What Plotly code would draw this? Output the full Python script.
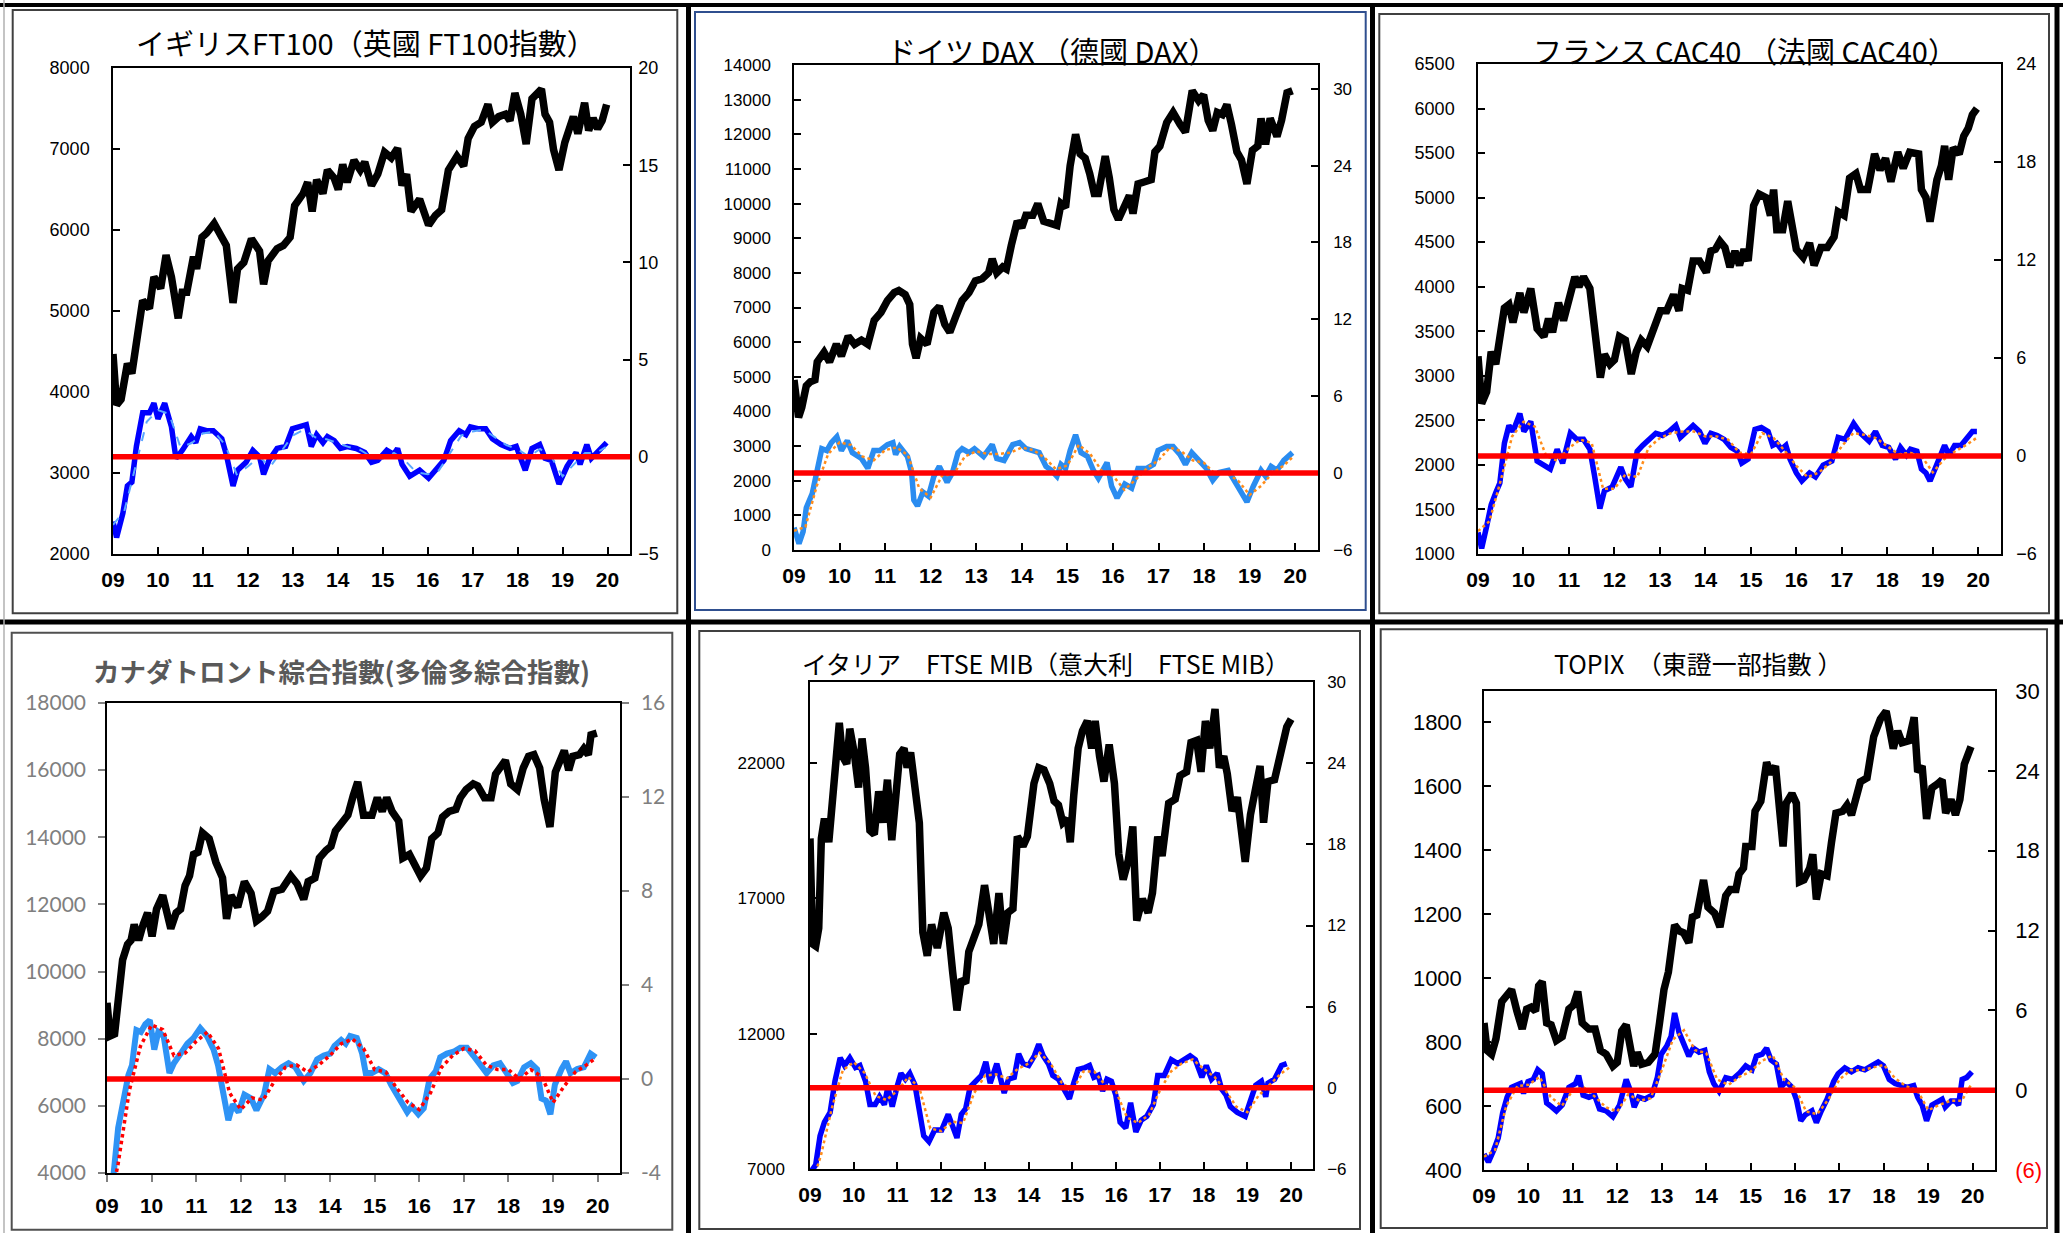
import plotly.graph_objects as go

W, H = 2063, 1233

# ---------------- data (decimal year, value) ----------------
QT = [2009.00, 2009.25, 2009.50, 2009.75, 2010.00, 2010.25, 2010.50, 2010.75,
      2011.00, 2011.25, 2011.50, 2011.75, 2012.00, 2012.25, 2012.50, 2012.75,
      2013.00, 2013.25, 2013.50, 2013.75, 2014.00, 2014.25, 2014.50, 2014.75,
      2015.00, 2015.25, 2015.50, 2015.75, 2016.00, 2016.25, 2016.50, 2016.75,
      2017.00, 2017.25, 2017.50, 2017.75, 2018.00, 2018.25, 2018.50, 2018.75,
      2019.00, 2019.25, 2019.50, 2019.75, 2019.96]

UK_IDX = [(2009.00,4470),(2009.08,3840),(2009.18,3910),(2009.32,4350),(2009.42,4230),(2009.52,4550),(2009.66,5130),(2009.81,5030),(2009.91,5420),(2010.06,5280),(2010.18,5690),(2010.30,5420),(2010.45,4910),(2010.54,5230),(2010.64,5230),(2010.79,5670),(2010.86,5520),(2010.98,5910),(2011.08,5960),(2011.25,6080),(2011.38,5960),(2011.52,5810),(2011.67,5100),(2011.77,5520),(2011.91,5600),(2012.08,5890),(2012.26,5740),(2012.35,5330),(2012.45,5620),(2012.65,5770),(2012.79,5810),(2012.94,5910),(2013.04,6300),(2013.23,6450),(2013.33,6590),(2013.43,6230),(2013.53,6620),(2013.67,6450),(2013.77,6740),(2013.92,6640),(2014.01,6500),(2014.11,6810),(2014.21,6590),(2014.36,6860),(2014.50,6740),(2014.60,6840),(2014.75,6550),(2014.89,6690),(2015.04,6960),(2015.19,6890),(2015.33,7010),(2015.43,6550),(2015.53,6690),(2015.63,6230),(2015.82,6380),(2016.02,6060),(2016.17,6180),(2016.31,6250),(2016.46,6740),(2016.65,6910),(2016.80,6790),(2016.90,7130),(2017.04,7280),(2017.19,7330),(2017.34,7550),(2017.44,7330),(2017.58,7400),(2017.73,7430),(2017.83,7350),(2017.94,7690),(2018.07,7430),(2018.19,7060),(2018.32,7620),(2018.41,7670),(2018.53,7740),(2018.61,7430),(2018.71,7330),(2018.80,6990),(2018.92,6740),(2019.05,7080),(2019.24,7400),(2019.34,7190),(2019.49,7570),(2019.58,7230),(2019.68,7380),(2019.78,7250),(2019.88,7350),(2019.98,7550)]
UK_MOM = [(2009.00,-3.33),(2009.08,-4.15),(2009.22,-2.9),(2009.32,-1.5),(2009.42,-1.3),(2009.52,0.53),(2009.66,2.26),(2009.81,2.26),(2009.91,2.76),(2010.00,1.95),(2010.15,2.76),(2010.30,1.54),(2010.40,-0.08),(2010.54,0.33),(2010.74,1.04),(2010.84,0.73),(2010.94,1.44),(2011.08,1.34),(2011.23,1.34),(2011.42,0.93),(2011.52,0.12),(2011.67,-1.5),(2011.77,-0.69),(2011.96,-0.28),(2012.11,0.33),(2012.26,0.0),(2012.35,-0.9),(2012.47,-0.18),(2012.65,0.43),(2012.84,0.53),(2012.99,1.44),(2013.13,1.54),(2013.30,1.65),(2013.41,0.53),(2013.53,1.14),(2013.67,0.73),(2013.77,1.04),(2013.92,0.83),(2014.06,0.43),(2014.21,0.53),(2014.41,0.43),(2014.60,0.22),(2014.75,-0.28),(2014.89,-0.18),(2015.09,0.33),(2015.24,0.12),(2015.33,0.43),(2015.43,-0.39),(2015.60,-1.0),(2015.82,-0.69),(2016.02,-1.1),(2016.21,-0.59),(2016.36,-0.18),(2016.51,0.83),(2016.70,1.34),(2016.85,1.14),(2016.95,1.54),(2017.14,1.44),(2017.29,1.44),(2017.44,0.93),(2017.63,0.63),(2017.83,0.43),(2017.97,0.53),(2018.17,-0.69),(2018.32,0.43),(2018.49,0.63),(2018.61,-0.08),(2018.75,-0.18),(2018.92,-1.4),(2019.10,-0.49),(2019.30,0.22),(2019.39,-0.39),(2019.54,0.63),(2019.64,-0.08),(2019.78,0.22),(2019.98,0.73)]
UK_SIG = [-3.5,-2.8,-0.5,1.8, 2.4,2.2,0.5,0.7, 1.2,1.3,0.6,-0.9, -0.5,0.0,-0.5,0.3, 1.1,1.4,1.0,0.9, 0.7,0.5,0.35,0.0, -0.1,0.2,-0.2,-0.8, -0.9,-0.7,0.2,1.1, 1.3,1.4,1.0,0.6, 0.4,0.0,0.4,0.0, -1.0,-0.4,0.2,0.2, 0.5]

DE_IDX = [(2009.00,4910),(2009.10,3830),(2009.17,4110),(2009.27,4740),(2009.36,4860),(2009.46,4910),(2009.51,5430),(2009.66,5710),(2009.78,5430),(2009.93,5940),(2010.04,5600),(2010.19,6170),(2010.33,5940),(2010.48,6060),(2010.62,5940),(2010.76,6630),(2010.91,6860),(2011.05,7200),(2011.20,7430),(2011.30,7490),(2011.44,7370),(2011.54,7090),(2011.60,5940),(2011.68,5540),(2011.78,6110),(2011.92,5940),(2012.07,6860),(2012.19,7030),(2012.31,6510),(2012.42,6290),(2012.55,6740),(2012.69,7200),(2012.84,7430),(2012.98,7770),(2013.13,7830),(2013.27,8000),(2013.35,8400),(2013.45,8000),(2013.58,8170),(2013.66,8110),(2013.77,8800),(2013.90,9490),(2014.00,9310),(2014.09,9660),(2014.24,9660),(2014.35,9999),(2014.48,9490),(2014.62,9430),(2014.77,9370),(2014.86,10000),(2014.96,9890),(2015.06,11090),(2015.18,12000),(2015.28,11430),(2015.39,11310),(2015.49,10860),(2015.59,10290),(2015.68,10290),(2015.83,11370),(2015.92,10740),(2016.02,9830),(2016.12,9540),(2016.26,9940),(2016.36,10230),(2016.44,9710),(2016.55,10570),(2016.70,10630),(2016.84,10690),(2016.92,11490),(2017.03,11660),(2017.18,12340),(2017.32,12630),(2017.47,12290),(2017.59,12060),(2017.74,13260),(2017.88,12970),(2017.99,13140),(2018.09,12400),(2018.19,12110),(2018.29,12630),(2018.40,12570),(2018.50,12860),(2018.60,12290),(2018.72,11490),(2018.82,11260),(2018.94,10570),(2019.06,11540),(2019.18,11660),(2019.25,12460),(2019.35,11710),(2019.45,12460),(2019.60,11940),(2019.70,12400),(2019.82,13200),(2019.94,13260)]
DE_MOM = [(2009.00,-4.26),(2009.11,-5.5),(2009.20,-4.57),(2009.27,-2.7),(2009.40,-1.6),(2009.51,0.52),(2009.61,1.91),(2009.72,1.76),(2009.82,2.38),(2009.94,2.84),(2010.04,1.76),(2010.17,2.53),(2010.28,1.6),(2010.48,1.14),(2010.62,0.37),(2010.75,1.76),(2010.88,1.76),(2011.05,2.22),(2011.17,2.38),(2011.23,1.45),(2011.32,2.07),(2011.49,1.3),(2011.58,0.06),(2011.63,-2.1),(2011.71,-2.56),(2011.83,-1.48),(2011.95,-1.8),(2012.07,-0.25),(2012.19,0.52),(2012.36,-0.71),(2012.48,0.06),(2012.60,1.6),(2012.69,1.91),(2012.84,1.6),(2012.96,1.91),(2013.16,1.3),(2013.35,2.22),(2013.45,1.14),(2013.61,0.99),(2013.80,2.22),(2013.95,2.38),(2014.09,1.91),(2014.24,1.76),(2014.38,1.6),(2014.53,0.52),(2014.65,0.22),(2014.77,-0.25),(2014.86,0.68),(2014.96,0.37),(2015.06,1.76),(2015.18,2.99),(2015.30,1.6),(2015.44,1.3),(2015.57,0.22),(2015.68,-0.4),(2015.87,0.83),(2015.97,-1.02),(2016.09,-1.94),(2016.26,-0.86),(2016.41,-1.17),(2016.55,0.37),(2016.74,0.37),(2016.89,0.68),(2016.99,1.76),(2017.18,2.07),(2017.32,2.07),(2017.47,1.45),(2017.59,0.68),(2017.73,1.6),(2017.90,0.99),(2018.05,0.37),(2018.19,-0.56),(2018.33,0.06),(2018.53,0.22),(2018.67,-0.56),(2018.82,-1.48),(2018.94,-2.25),(2019.08,-1.02),(2019.25,0.22),(2019.35,-0.25),(2019.47,0.52),(2019.60,0.22),(2019.75,0.99),(2019.94,1.6)]
DE_SIG = [-4.5,-4.2,-1.0,1.5, 2.4,2.2,1.3,1.0, 1.8,2.0,1.4,-1.2, -1.9,-0.2,-0.1,1.3, 1.7,1.5,1.5,1.6, 2.0,1.8,1.2,0.3, 0.6,2.2,1.5,0.2, -0.2,-1.3,-0.5,0.4, 1.0,2.0,1.7,1.0, 0.8,-0.1,0.0,-0.6, -1.7,-1.0,0.0,0.6, 1.3]

FR_IDX = [(2009.00,3220),(2009.08,2690),(2009.19,2820),(2009.29,3270),(2009.39,3130),(2009.48,3400),(2009.58,3760),(2009.68,3800),(2009.77,3600),(2009.92,3930),(2010.01,3710),(2010.16,3980),(2010.30,3530),(2010.45,3440),(2010.55,3640),(2010.64,3490),(2010.77,3820),(2010.88,3620),(2011.03,3960),(2011.13,4110),(2011.22,4000),(2011.32,4110),(2011.46,3980),(2011.56,3530),(2011.69,2980),(2011.78,3240),(2011.90,3130),(2012.00,3180),(2012.11,3440),(2012.24,3400),(2012.37,3020),(2012.48,3270),(2012.59,3400),(2012.72,3330),(2012.86,3530),(2013.01,3730),(2013.15,3730),(2013.30,3910),(2013.42,3730),(2013.49,3980),(2013.61,3960),(2013.73,4290),(2013.87,4290),(2014.02,4160),(2014.12,4400),(2014.22,4420),(2014.32,4510),(2014.43,4440),(2014.54,4220),(2014.65,4400),(2014.75,4240),(2014.85,4420),(2014.94,4290),(2015.06,4910),(2015.18,5040),(2015.33,5000),(2015.43,4800),(2015.50,5090),(2015.57,4640),(2015.70,4640),(2015.81,4960),(2015.91,4640),(2016.00,4420),(2016.15,4330),(2016.29,4490),(2016.39,4240),(2016.54,4440),(2016.68,4440),(2016.83,4560),(2016.92,4840),(2017.05,4800),(2017.17,5220),(2017.31,5270),(2017.41,5090),(2017.57,5090),(2017.72,5490),(2017.84,5310),(2017.96,5440),(2018.08,5180),(2018.23,5510),(2018.35,5330),(2018.49,5510),(2018.61,5490),(2018.69,5490),(2018.75,5090),(2018.85,5000),(2018.94,4730),(2019.09,5200),(2019.19,5360),(2019.26,5580),(2019.35,5200),(2019.45,5560),(2019.58,5490),(2019.68,5690),(2019.78,5780),(2019.87,5930),(2019.97,6000)]
FR_MOM = [(2009.00,-4.68),(2009.08,-5.65),(2009.19,-4.31),(2009.29,-2.98),(2009.39,-2.25),(2009.48,-1.65),(2009.58,0.78),(2009.68,1.87),(2009.77,1.5),(2009.92,2.6),(2010.01,1.5),(2010.16,2.11),(2010.30,-0.31),(2010.45,-0.56),(2010.59,-0.8),(2010.74,0.41),(2010.86,-0.44),(2011.03,1.39),(2011.17,1.02),(2011.32,1.02),(2011.46,0.41),(2011.56,-1.16),(2011.68,-3.22),(2011.78,-2.13),(2011.95,-1.89),(2012.14,-0.68),(2012.24,-1.41),(2012.36,-1.89),(2012.50,0.29),(2012.62,0.65),(2012.77,1.02),(2012.91,1.39),(2013.06,1.26),(2013.20,1.5),(2013.35,1.87),(2013.45,1.14),(2013.59,1.5),(2013.73,1.87),(2013.87,1.5),(2013.99,0.78),(2014.12,1.39),(2014.26,1.26),(2014.41,1.02),(2014.56,0.53),(2014.70,0.29),(2014.80,-0.44),(2014.94,-0.19),(2015.09,1.63),(2015.23,1.74),(2015.38,1.5),(2015.48,0.65),(2015.57,0.78),(2015.67,0.41),(2015.77,0.65),(2015.86,-0.19),(2016.00,-1.04),(2016.12,-1.53),(2016.29,-1.04),(2016.42,-1.28),(2016.59,-0.56),(2016.78,-0.31),(2016.92,1.14),(2017.07,1.02),(2017.26,1.99),(2017.41,1.39),(2017.60,0.9),(2017.74,1.5),(2017.89,0.65),(2018.03,0.53),(2018.18,-0.19),(2018.29,0.53),(2018.42,0.05),(2018.51,0.41),(2018.65,0.29),(2018.75,-0.8),(2018.85,-1.04),(2018.94,-1.53),(2019.09,-0.44),(2019.26,0.65),(2019.36,0.05),(2019.48,0.65),(2019.62,0.65),(2019.78,1.14),(2019.87,1.5),(2019.97,1.5)]
FR_SIG = [-4.6,-4.0,-1.5,1.2, 2.1,1.8,0.0,-0.3, 0.5,1.0,0.8,-2.0, -2.0,-1.1,-1.3,0.5, 1.1,1.4,1.5,1.5, 1.2,1.2,1.0,0.2, 0.1,1.4,1.1,0.3, -0.6,-1.3,-1.0,-0.4, 0.6,1.4,1.3,1.1, 0.6,0.1,0.2,0.0, -1.0,-0.2,0.3,0.7, 1.1]

CA_IDX = [(2009.00,9070),(2009.07,8080),(2009.17,8140),(2009.27,9180),(2009.35,10350),(2009.46,10810),(2009.54,10930),(2009.61,11400),(2009.71,10930),(2009.81,11400),(2009.91,11750),(2010.01,11050),(2010.11,11860),(2010.25,12270),(2010.43,11280),(2010.55,11750),(2010.65,11860),(2010.75,12560),(2010.85,12850),(2010.94,13490),(2011.04,13550),(2011.14,14130),(2011.29,13960),(2011.44,13260),(2011.59,12790),(2011.68,11570),(2011.78,12270),(2011.93,11920),(2012.08,12680),(2012.23,12330),(2012.35,11510),(2012.47,11630),(2012.60,11800),(2012.74,12390),(2012.92,12450),(2013.12,12850),(2013.26,12620),(2013.41,12150),(2013.51,12680),(2013.66,12790),(2013.76,13380),(2013.91,13610),(2014.02,13730),(2014.12,14190),(2014.25,14420),(2014.40,14660),(2014.52,15240),(2014.62,15650),(2014.75,14660),(2014.94,14660),(2015.06,15180),(2015.17,14770),(2015.27,15180),(2015.39,14770),(2015.54,14480),(2015.63,13380),(2015.78,13490),(2015.90,13140),(2016.03,12850),(2016.16,13080),(2016.28,13960),(2016.42,14130),(2016.52,14600),(2016.67,14770),(2016.82,14830),(2016.92,15180),(2017.05,15420),(2017.21,15590),(2017.31,15530),(2017.46,15180),(2017.61,15180),(2017.71,15880),(2017.81,16060),(2017.93,16290),(2018.05,15590),(2018.20,15420),(2018.33,16060),(2018.45,16410),(2018.57,16460),(2018.70,16060),(2018.80,15120),(2018.93,14310),(2019.05,15940),(2019.15,16230),(2019.25,16580),(2019.35,16000),(2019.44,16410),(2019.59,16460),(2019.69,16640),(2019.79,16460),(2019.85,17050),(2019.98,17100)]
CA_MOM = [(2009.00,-5.5),(2009.10,-4.6),(2009.15,-4.0),(2009.25,-2.08),(2009.37,-0.92),(2009.48,0.17),(2009.56,0.58),(2009.66,2.08),(2009.76,2.0),(2009.86,2.33),(2009.96,2.5),(2010.06,1.25),(2010.15,2.0),(2010.27,1.83),(2010.40,0.25),(2010.50,0.67),(2010.65,1.08),(2010.80,1.5),(2010.94,1.75),(2011.09,2.16),(2011.24,1.83),(2011.39,1.25),(2011.49,0.58),(2011.59,-0.33),(2011.66,-1.08),(2011.72,-1.75),(2011.82,-1.08),(2011.95,-1.41),(2012.08,-0.67),(2012.23,-0.83),(2012.35,-1.33),(2012.52,-0.67),(2012.64,0.42),(2012.77,0.25),(2012.92,0.5),(2013.07,0.67),(2013.22,0.5),(2013.41,-0.08),(2013.56,0.25),(2013.71,0.83),(2013.86,1.0),(2014.00,1.08),(2014.10,1.41),(2014.25,1.66),(2014.35,1.5),(2014.45,1.83),(2014.60,1.75),(2014.72,1.08),(2014.80,0.25),(2014.94,0.25),(2015.09,0.42),(2015.24,0.25),(2015.37,-0.25),(2015.49,-0.67),(2015.63,-1.08),(2015.73,-1.41),(2015.83,-1.16),(2015.98,-1.5),(2016.10,-1.25),(2016.23,0.0),(2016.37,0.33),(2016.47,0.92),(2016.62,1.08),(2016.77,1.16),(2016.92,1.33),(2017.07,1.33),(2017.21,1.0),(2017.36,0.58),(2017.51,0.25),(2017.66,0.58),(2017.81,0.67),(2017.96,0.25),(2018.10,-0.17),(2018.20,-0.08),(2018.35,0.5),(2018.50,0.67),(2018.64,0.42),(2018.74,-0.83),(2018.84,-0.92),(2018.94,-1.5),(2019.04,-0.25),(2019.19,0.42),(2019.29,0.75),(2019.39,0.25),(2019.54,0.42),(2019.69,0.5),(2019.84,1.08),(2019.96,0.92)]
CA_SIG = [-6.0,-3.6,-0.5,1.4, 2.3,2.1,1.0,1.1, 1.6,2.0,1.3,-0.6, -1.3,-0.8,-0.9,-0.1, 0.5,0.6,0.3,0.6, 1.0,1.5,1.7,1.3, 0.4,0.3,-0.4,-1.0, -1.3,-0.6,0.5,1.0, 1.3,1.2,0.6,0.4, 0.4,0.0,0.4,0.1, -1.0,-0.3,0.3,0.6, 0.9]

IT_IDX = [(2009.00,19220),(2009.06,15320),(2009.13,15240),(2009.20,15900),(2009.26,19220),(2009.33,19950),(2009.43,19080),(2009.53,21250),(2009.67,23490),(2009.74,22260),(2009.84,21970),(2009.91,23270),(2010.01,22400),(2010.11,21100),(2010.19,22910),(2010.27,21830),(2010.37,19510),(2010.47,19370),(2010.57,20960),(2010.67,19800),(2010.77,21390),(2010.87,19150),(2010.97,20810),(2011.05,22330),(2011.15,22550),(2011.22,21830),(2011.30,22400),(2011.40,21250),(2011.50,19800),(2011.58,15750),(2011.68,14880),(2011.78,16040),(2011.91,15170),(2012.06,16470),(2012.16,15900),(2012.26,14300),(2012.36,12860),(2012.46,14010),(2012.56,13870),(2012.63,15030),(2012.76,15610),(2012.86,16040),(2012.99,17490),(2013.12,16040),(2013.20,15320),(2013.32,17200),(2013.42,15320),(2013.52,16470),(2013.64,16620),(2013.74,19290),(2013.87,18930),(2013.97,19290),(2014.12,21250),(2014.23,21830),(2014.35,21750),(2014.48,21250),(2014.58,20600),(2014.68,20450),(2014.78,19800),(2014.88,19950),(2014.95,19080),(2015.03,20810),(2015.13,22550),(2015.23,23200),(2015.34,23560),(2015.44,22550),(2015.52,23560),(2015.62,22260),(2015.72,21320),(2015.84,22690),(2015.96,21250),(2016.06,18640),(2016.16,17700),(2016.28,18430),(2016.38,19660),(2016.47,16180),(2016.60,16980),(2016.73,16470),(2016.83,17200),(2016.95,19290),(2017.05,18570),(2017.20,20520),(2017.35,20670),(2017.46,21540),(2017.61,21680),(2017.71,22760),(2017.84,22840),(2017.94,21680),(2018.04,23560),(2018.14,22550),(2018.26,24000),(2018.36,21830),(2018.46,22260),(2018.54,21610),(2018.65,20230),(2018.77,20740),(2018.87,19000),(2018.95,18350),(2019.07,20090),(2019.19,20960),(2019.29,21900),(2019.37,19800),(2019.47,21320),(2019.62,21390),(2019.78,22690),(2019.90,23340),(2020.00,23630)]
IT_MOM = [(2009.00,-6.3),(2009.13,-5.7),(2009.23,-3.55),(2009.33,-2.54),(2009.46,-1.82),(2009.57,0.49),(2009.69,2.22),(2009.79,1.65),(2009.91,2.22),(2010.04,1.5),(2010.14,1.65),(2010.27,0.49),(2010.37,-1.24),(2010.49,-1.24),(2010.59,-0.66),(2010.70,-1.24),(2010.78,0.06),(2010.88,-1.39),(2011.00,0.2),(2011.08,1.07),(2011.18,0.64),(2011.28,1.07),(2011.40,0.2),(2011.50,-1.53),(2011.60,-3.55),(2011.72,-3.98),(2011.85,-3.12),(2012.01,-3.12),(2012.16,-1.96),(2012.26,-2.83),(2012.36,-3.7),(2012.46,-1.96),(2012.56,-1.53),(2012.66,0.06),(2012.81,0.49),(2012.92,0.92),(2013.02,1.93),(2013.12,0.35),(2013.27,1.79),(2013.37,0.49),(2013.44,-0.38),(2013.54,0.64),(2013.67,0.78),(2013.77,2.51),(2013.87,1.79),(2014.00,1.65),(2014.13,2.37),(2014.23,3.23),(2014.33,2.37),(2014.45,1.79),(2014.55,0.92),(2014.68,0.64),(2014.81,-0.23),(2014.93,-0.81),(2015.03,0.35),(2015.13,1.36),(2015.29,1.5),(2015.39,1.65),(2015.49,0.78),(2015.59,0.92),(2015.69,-0.23),(2015.79,0.64),(2015.89,0.49),(2015.99,-0.52),(2016.09,-2.54),(2016.22,-2.97),(2016.33,-1.1),(2016.45,-3.26),(2016.57,-2.4),(2016.70,-2.11),(2016.85,-1.24),(2016.95,0.92),(2017.10,0.92),(2017.26,2.08),(2017.41,1.79),(2017.54,2.08),(2017.69,2.37),(2017.81,2.08),(2017.96,0.78),(2018.06,1.65),(2018.18,0.64),(2018.31,1.07),(2018.41,-0.09),(2018.51,-0.52),(2018.61,-1.39),(2018.77,-1.82),(2018.95,-2.11),(2019.07,-0.95),(2019.19,0.2),(2019.32,0.49),(2019.42,-0.66),(2019.47,0.35),(2019.62,0.64),(2019.78,1.65),(2019.90,1.79)]
IT_SIG = [-7.5,-5.0,-1.5,1.3, 1.9,1.1,-0.6,-0.9, -0.2,0.8,0.0,-3.0, -3.2,-2.5,-2.6,-0.4, 0.9,1.0,0.7,1.4, 1.8,2.6,1.8,0.4, -0.2,1.2,1.2,0.2, -0.3,-2.2,-2.6,-2.0, -0.2,1.2,1.8,2.1, 1.4,0.8,-0.2,-1.4, -1.8,-0.6,0.2,1.0, 1.5]

JP_IDX = [(2009.00,860),(2009.07,774),(2009.17,762),(2009.27,811),(2009.40,927),(2009.52,952),(2009.62,964),(2009.74,897),(2009.86,841),(2009.96,903),(2010.06,909),(2010.16,897),(2010.23,976),(2010.31,989),(2010.41,860),(2010.51,854),(2010.63,805),(2010.76,817),(2010.91,903),(2011.01,915),(2011.11,958),(2011.21,860),(2011.36,841),(2011.50,841),(2011.62,774),(2011.75,762),(2011.90,725),(2012.00,737),(2012.10,835),(2012.20,854),(2012.30,774),(2012.37,725),(2012.45,768),(2012.55,731),(2012.70,737),(2012.85,762),(2012.95,860),(2013.05,964),(2013.15,1019),(2013.22,1081),(2013.29,1166),(2013.39,1148),(2013.49,1142),(2013.61,1111),(2013.69,1191),(2013.79,1197),(2013.87,1252),(2013.94,1307),(2014.04,1222),(2014.19,1203),(2014.31,1160),(2014.44,1258),(2014.54,1277),(2014.67,1277),(2014.74,1326),(2014.84,1344),(2014.89,1412),(2015.03,1412),(2015.10,1522),(2015.23,1553),(2015.36,1675),(2015.46,1638),(2015.56,1663),(2015.63,1571),(2015.73,1412),(2015.80,1547),(2015.93,1577),(2016.03,1547),(2016.10,1301),(2016.20,1307),(2016.33,1344),(2016.40,1387),(2016.48,1246),(2016.59,1326),(2016.72,1320),(2016.82,1424),(2016.92,1516),(2017.07,1522),(2017.17,1541),(2017.27,1510),(2017.37,1571),(2017.47,1614),(2017.62,1626),(2017.77,1755),(2017.92,1810),(2018.05,1835),(2018.12,1785),(2018.21,1718),(2018.31,1773),(2018.41,1736),(2018.56,1742),(2018.68,1816),(2018.76,1645),(2018.86,1663),(2018.96,1498),(2019.08,1595),(2019.21,1608),(2019.31,1620),(2019.39,1516),(2019.51,1559),(2019.61,1510),(2019.71,1559),(2019.81,1669),(2019.96,1724)]
JP_MOM = [(2009.00,-4.8),(2009.10,-5.4),(2009.22,-4.5),(2009.32,-3.6),(2009.42,-1.7),(2009.52,-0.53),(2009.62,0.21),(2009.72,0.35),(2009.82,0.5),(2009.89,-0.24),(2009.99,0.65),(2010.11,0.8),(2010.21,1.53),(2010.31,1.24),(2010.41,-0.97),(2010.53,-1.27),(2010.63,-1.56),(2010.76,-1.12),(2010.91,0.21),(2011.06,0.5),(2011.13,1.09),(2011.23,-0.38),(2011.36,-0.53),(2011.49,-0.38),(2011.60,-1.41),(2011.75,-1.56),(2011.90,-2.0),(2012.05,-1.12),(2012.20,0.8),(2012.30,-0.09),(2012.38,-1.27),(2012.48,-0.53),(2012.62,-0.68),(2012.78,-0.38),(2012.90,0.94),(2012.99,2.71),(2013.11,3.3),(2013.21,4.04),(2013.29,5.8),(2013.39,4.33),(2013.49,3.45),(2013.61,2.56),(2013.71,3.15),(2013.84,2.86),(2013.97,3.0),(2014.07,1.38),(2014.17,0.5),(2014.29,-0.09),(2014.44,0.94),(2014.59,0.8),(2014.74,1.24),(2014.89,1.83),(2015.03,1.53),(2015.13,2.56),(2015.26,2.71),(2015.36,3.15),(2015.46,2.27),(2015.58,1.97),(2015.68,0.21),(2015.80,0.65),(2015.93,0.21),(2016.03,-0.68),(2016.13,-2.3),(2016.23,-1.86),(2016.38,-1.56),(2016.48,-2.44),(2016.59,-1.56),(2016.72,-0.68),(2016.87,0.65),(2016.97,1.24),(2017.12,1.68),(2017.27,1.38),(2017.42,1.68),(2017.57,1.53),(2017.72,1.83),(2017.87,2.12),(2017.99,1.83),(2018.12,0.8),(2018.25,0.5),(2018.37,0.35),(2018.52,0.21),(2018.67,0.35),(2018.76,-0.53),(2018.86,-1.12),(2018.96,-2.3),(2019.08,-1.12),(2019.21,-0.82),(2019.31,-0.68),(2019.38,-1.27),(2019.51,-0.82),(2019.61,-0.82),(2019.68,-1.12),(2019.76,0.8),(2019.86,0.94),(2019.98,1.38)]
JP_SIG = [-5.0,-4.5,-1.2,0.3, 0.4,1.0,-0.5,-1.2, 0.0,0.2,-0.5,-1.3, -1.6,-0.3,-0.8,-0.6, 1.5,3.8,4.5,3.0, 2.8,0.8,0.4,1.0, 1.4,2.2,2.6,0.8, 0.2,-1.6,-1.8,-0.7, 0.8,1.5,1.5,1.7, 1.9,0.9,0.3,0.0, -1.5,-1.1,-0.8,-0.8, 0.4]

TITLES = ["イギリスFT100（英國 FT100指數）",
          "ドイツ DAX （德國 DAX）",
          "フランス CAC40 （法國 CAC40）",
          "カナダトロント綜合指數(多倫多綜合指數)",
          "イタリア　FTSE MIB（意大利　FTSE MIB）",
          "TOPIX　（東證一部指數 ）"]
YEAR_TICKS = [2009, 2010, 2011, 2012, 2013, 2014, 2015, 2016, 2017, 2018, 2019, 2020]
YEAR_LABELS = ["09", "10", "11", "12", "13", "14", "15", "16", "17", "18", "19", "20"]

# ---------------- panel configuration ----------------
MINUS = "\u2212"
panels = [
    dict(idx=UK_IDX, mom=UK_MOM, sig=UK_SIG, rect=(113, 68, 630, 554),
         lrange=[2000, 8000], lticks=[2000, 3000, 4000, 5000, 6000, 7000, 8000],
         rrange=[-5, 20], rticks=[-5, 0, 5, 10, 15, 20],
         rtext=[MINUS + "5", "0", "5", "10", "15", "20"],
         blue="#0000ff", sigc="#5aa8ff", sigdash="dash", sigw=2,
         fs=18, lstand=18, rstand=3, title_xy=(366, 42), tfs=29, tbold=False, tcolor="#000000"),
    dict(idx=DE_IDX, mom=DE_MOM, sig=DE_SIG, rect=(794, 65, 1318, 550),
         lrange=[0, 14000], lticks=list(range(0, 14001, 1000)),
         rrange=[-6, 31.85], rticks=[-6, 0, 6, 12, 18, 24, 30],
         rtext=[MINUS + "6", "0", "6", "12", "18", "24", "30"],
         blue="#2a8cf0", sigc="#ff8c1a", sigdash="dot", sigw=2.5,
         fs=17, lstand=18, rstand=10, title_xy=(1052, 50), tfs=29, tbold=False, tcolor="#000000"),
    dict(idx=FR_IDX, mom=FR_MOM, sig=FR_SIG, rect=(1478, 64, 2001, 554),
         lrange=[1000, 6500], lticks=list(range(1000, 6501, 500)),
         rrange=[-6, 24], rticks=[-6, 0, 6, 12, 18, 24],
         rtext=[MINUS + "6", "0", "6", "12", "18", "24"],
         blue="#0000ff", sigc="#ff8c1a", sigdash="dot", sigw=2.5,
         fs=18, lstand=18, rstand=10, title_xy=(1745, 50), tfs=29, tbold=False, tcolor="#000000"),
    dict(idx=CA_IDX, mom=CA_MOM, sig=CA_SIG, rect=(107, 703, 620, 1173),
         lrange=[4000, 18000], lticks=list(range(4000, 18001, 2000)),
         rrange=[-4, 16], rticks=[-4, 0, 4, 8, 12, 16],
         rtext=["-4", "0", "4", "8", "12", "16"],
         blue="#2e93f5", sigc="#ff0000", sigdash="dot", sigw=3.5,
         fs=21, lstand=8, rstand=8, title_xy=(341, 670), tfs=26.5, tbold=True, tcolor="#595959"),
    dict(idx=IT_IDX, mom=IT_MOM, sig=IT_SIG, rect=(810, 682, 1313, 1169),
         lrange=[7000, 25000], lticks=[7000, 12000, 17000, 22000],
         rrange=[-6, 30], rticks=[-6, 0, 6, 12, 18, 24, 30],
         rtext=[MINUS + "6", "0", "6", "12", "18", "24", "30"],
         blue="#0000ff", sigc="#ff8c1a", sigdash="dot", sigw=2.5,
         fs=17, lstand=20, rstand=9, title_xy=(1046, 663), tfs=25, tbold=False, tcolor="#000000"),
    dict(idx=JP_IDX, mom=JP_MOM, sig=JP_SIG, rect=(1484, 691, 1995, 1170),
         lrange=[400, 1898], lticks=list(range(400, 1801, 200)),
         rrange=[-6, 30], rticks=[-6, 0, 6, 12, 18, 24, 30],
         rtext=["<span style='color:#ff0000'>(6)</span>", "0", "6", "12", "18", "24", "30"],
         blue="#0000ff", sigc="#ff8c1a", sigdash="dot", sigw=2.5,
         fs=22, lstand=16, rstand=14, title_xy=(1698, 663), tfs=25, tbold=False, tcolor="#000000"),
]

fig = go.Figure()
layout = dict(width=W, height=H, autosize=False,
              margin=dict(l=0, r=0, t=0, b=0, pad=0, autoexpand=False),
              paper_bgcolor="white", plot_bgcolor="white", showlegend=False)
shapes = []
annotations = []

NUM_FONT = "Liberation Sans, Arial, sans-serif"
YEAR_FONT = "Liberation Sans Narrow, Arial Narrow, Liberation Sans, Arial, sans-serif"
CJK_FONT = "Noto Sans CJK JP, Noto Sans CJK SC, sans-serif"

for i, p in enumerate(panels, start=1):
    xname = "xaxis" if i == 1 else f"xaxis{i}"
    xid = "x" if i == 1 else f"x{i}"
    ly, ry = 2 * i - 1, 2 * i
    lyname = "yaxis" if ly == 1 else f"yaxis{ly}"
    lyid = "y" if ly == 1 else f"y{ly}"
    ryname = f"yaxis{ry}"
    ryid = f"y{ry}"
    x0, y0, x1, y1 = p["rect"]
    xdom = [x0 / W, x1 / W]
    ydom = [1 - y1 / H, 1 - y0 / H]
    canada = (i == 4)
    tickdir = "outside" if canada else "inside"
    tickcol = "#808080" if canada else "#000000"
    labcol = "#7f7f7f" if canada else "#000000"
    numfont = "Lato, Liberation Sans, sans-serif" if canada else NUM_FONT

    layout[xname] = dict(domain=xdom, anchor=lyid, range=[2009, 2020.5], automargin=False,
                         tickmode="array", tickvals=YEAR_TICKS, ticktext=YEAR_LABELS,
                         ticks=tickdir, ticklen=7, tickcolor=tickcol, tickwidth=1.5,
                         showline=True, mirror=True, linecolor="#000000", linewidth=1.5,
                         showgrid=False, zeroline=False, ticklabelstandoff=6,
                         tickfont=dict(family=YEAR_FONT, size=21, color="#000000", weight="bold"),
                         fixedrange=True)
    layout[lyname] = dict(domain=ydom, anchor=xid, range=p["lrange"], automargin=False,
                          tickmode="array", tickvals=p["lticks"], ticktext=[str(v) for v in p["lticks"]],
                          ticks=tickdir, ticklen=7, tickcolor=tickcol, tickwidth=1.5,
                          showline=True, linecolor="#000000", linewidth=1.5,
                          showgrid=False, zeroline=False, ticklabelstandoff=p["lstand"],
                          tickfont=dict(family=numfont, size=p["fs"], color=labcol),
                          fixedrange=True)
    layout[ryname] = dict(domain=ydom, anchor=xid, overlaying=lyid, side="right", automargin=False,
                          range=p["rrange"], tickmode="array", tickvals=p["rticks"], ticktext=p["rtext"],
                          ticks=tickdir, ticklen=7, tickcolor=tickcol, tickwidth=1.5,
                          showline=True, linecolor="#000000", linewidth=1.5,
                          showgrid=False, zeroline=False, ticklabelstandoff=p["rstand"],
                          tickfont=dict(family=numfont, size=p["fs"], color=labcol),
                          fixedrange=True)

    bt = [a for a, _ in p["idx"]]
    bv = [b for _, b in p["idx"]]
    mt = [a for a, _ in p["mom"]]
    mv = [b for _, b in p["mom"]]
    fig.add_trace(go.Scatter(x=bt, y=bv, mode="lines", xaxis=xid, yaxis=lyid,
                             line=dict(color="#000000", width=7.5), hoverinfo="skip"))
    fig.add_trace(go.Scatter(x=mt, y=mv, mode="lines", xaxis=xid, yaxis=ryid,
                             line=dict(color=p["blue"], width=6 if canada else 5.5), hoverinfo="skip"))
    fig.add_trace(go.Scatter(x=QT, y=p["sig"], mode="lines", xaxis=xid, yaxis=ryid,
                             line=dict(color=p["sigc"], width=p["sigw"], dash=p["sigdash"]),
                             hoverinfo="skip"))
    # zero reference line on the momentum axis
    shapes.append(dict(type="line", xref=f"{xid} domain", yref=ryid, x0=0, x1=1, y0=0, y1=0,
                       line=dict(color="#ff0000", width=5.5), layer="above"))
    tx, tyy = p["title_xy"]
    annotations.append(dict(text=TITLES[i - 1], xref="paper", yref="paper",
                            x=tx / W, y=1 - tyy / H, xanchor="center", yanchor="middle",
                            showarrow=False,
                            font=dict(family=CJK_FONT, size=p["tfs"], color=p["tcolor"],
                                      weight="bold" if p["tbold"] else "normal")))

# ---------------- panel frames ----------------
def px_line(xa, ya, xb, yb, color, width):
    return dict(type="line", xref="paper", yref="paper",
                x0=xa / W, x1=xb / W, y0=1 - ya / H, y1=1 - yb / H,
                line=dict(color=color, width=width), layer="above")

def px_rect(xa, ya, xb, yb, color, width):
    return dict(type="rect", xref="paper", yref="paper",
                x0=xa / W, x1=xb / W, y0=1 - yb / H, y1=1 - ya / H,
                line=dict(color=color, width=width), fillcolor="rgba(0,0,0,0)", layer="above")

shapes += [
    px_line(0, 5, W, 5, "#000000", 4),
    px_line(0, 622, W, 622, "#000000", 5),
    px_line(688.5, 5, 688.5, H, "#000000", 5),
    px_line(1372.5, 5, 1372.5, H, "#000000", 5),
    px_line(2057, 5, 2057, H, "#000000", 5),
    px_line(4, 0, 4, H, "#b0b0b0", 1.5),
    px_rect(12.7, 10, 677.3, 613.3, "#404040", 2),
    px_rect(695, 12, 1365.7, 610, "#2f4f8f", 2),
    px_rect(1379.3, 14, 2049, 613.3, "#404040", 2),
    px_rect(11.7, 632.7, 672.3, 1229.7, "#505050", 2),
    px_rect(699.3, 631, 1360, 1229, "#404040", 2),
    px_rect(1380.7, 629.3, 2047, 1228, "#404040", 2),
]

layout["shapes"] = shapes
layout["annotations"] = annotations
fig.update_layout(**layout)

PIN_TO_CORNER = (
    "document.documentElement.style.margin='0';"
    "document.documentElement.style.padding='0';"
    "document.documentElement.style.overflow='hidden';"
    "document.body.style.margin='0';document.body.style.padding='0';"
    "document.body.style.overflow='hidden';"
    "var gd=document.getElementById('{plot_id}');"
    "gd.style.position='fixed';gd.style.left='0px';gd.style.top='0px';"
)
fig.write_html("out.html", config={"displayModeBar": False}, post_script=PIN_TO_CORNER)
